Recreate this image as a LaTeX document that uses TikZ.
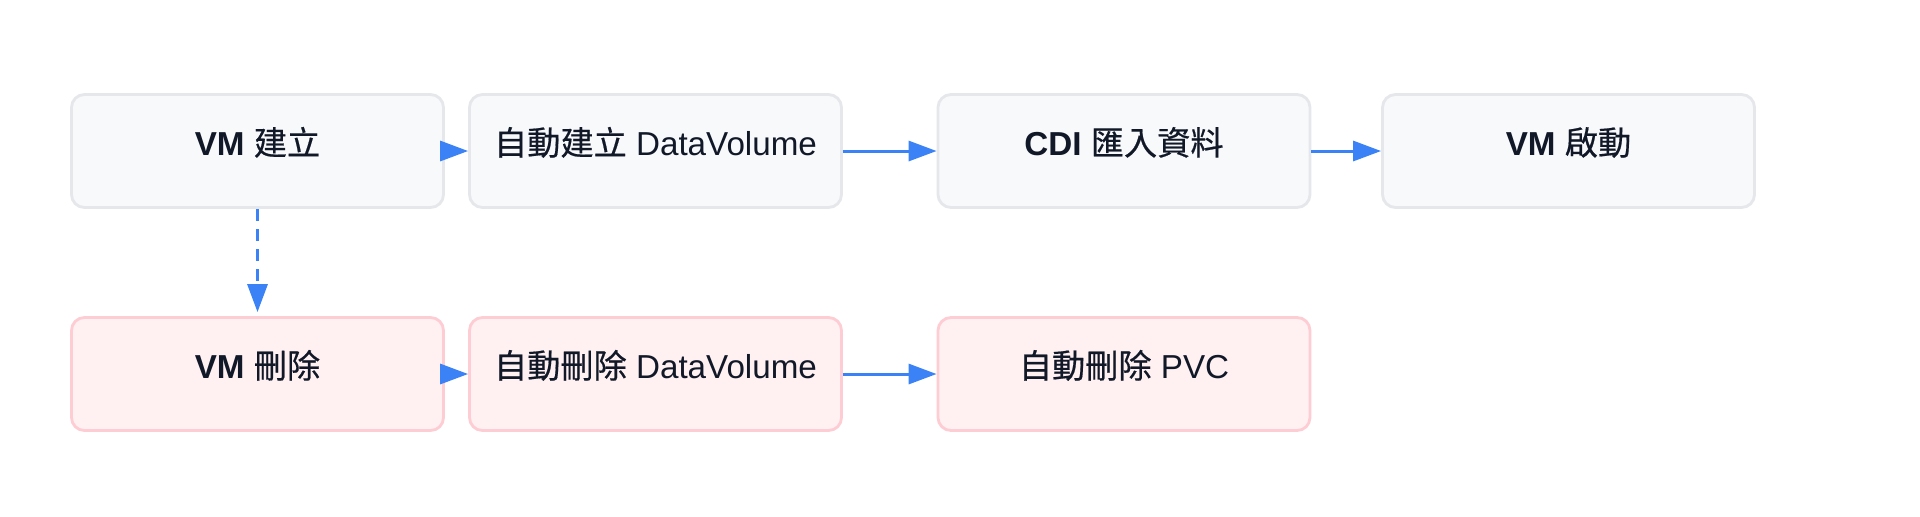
\documentclass[tikz,border=0pt]{standalone}
\usepackage{fontspec}
\setmainfont{Liberation Sans}
\newfontfamily\cjk[FakeBold=0.5]{Noto Sans CJK TC}
\usetikzlibrary{arrows.meta}
\definecolor{ink}{HTML}{111827}
\definecolor{boxgray}{HTML}{F8F9FB}
\definecolor{edgegray}{HTML}{E5E7EB}
\definecolor{boxrose}{HTML}{FFF0F2}
\definecolor{edgerose}{HTML}{FECDD3}
\definecolor{flowblue}{HTML}{3B82F6}

\begin{document}
\begin{tikzpicture}[x=0.5pt,y=-0.5pt,
  stepbox/.style={rectangle,rounded corners=6.5pt,line width=1.4pt,
    minimum width=186pt,minimum height=56.5pt,inner sep=0pt,
    text=ink,font=\fontsize{16.6}{19.5}\selectfont,
    text height=12pt,text depth=8pt},
  createbox/.style={stepbox,fill=boxgray,draw=edgegray},
  deletebox/.style={stepbox,fill=boxrose,draw=edgerose},
  flow/.style={flowblue,line width=1.5pt,-{Triangle[length=14pt,width=10pt]}},
  trigger/.style={flow,dash pattern=on 6pt off 4pt,shorten >=2pt}]
  \def\rowa{151}
  \def\rowb{374}

  \fill[white] (0,0) rectangle (1920,516);
  \useasboundingbox (0,0) rectangle (1920,516);

  % Create path: VM, then its DataVolume, import, boot.
  \node[createbox] (vmcreate) at (257.5,\rowa) {{\bfseries VM} {\cjk 建立}};
  \node[createbox] (dvcreate) at (655.5,\rowa) {{\cjk 自動建立} DataVolume};
  \node[createbox] (cdiimport) at (1124,\rowa) {{\bfseries CDI} {\cjk 匯入資料}};
  \node[createbox] (vmboot) at (1568.5,\rowa) {{\bfseries VM} {\cjk 啟動}};

  % Delete path, cascading down to the PVC.
  \node[deletebox] (vmdelete) at (257.5,\rowb) {{\bfseries VM} {\cjk 刪除}};
  \node[deletebox] (dvdelete) at (655.5,\rowb) {{\cjk 自動刪除} DataVolume};
  \node[deletebox] (pvcdelete) at (1124,\rowb) {{\cjk 自動刪除} PVC};

  \draw[flow] (vmcreate) -- (dvcreate);
  \draw[flow] (dvcreate) -- (cdiimport);
  \draw[flow] (cdiimport) -- (vmboot);
  \draw[trigger] (vmcreate) -- (vmdelete);
  \draw[flow] (vmdelete) -- (dvdelete);
  \draw[flow] (dvdelete) -- (pvcdelete);
\end{tikzpicture}
\end{document}
